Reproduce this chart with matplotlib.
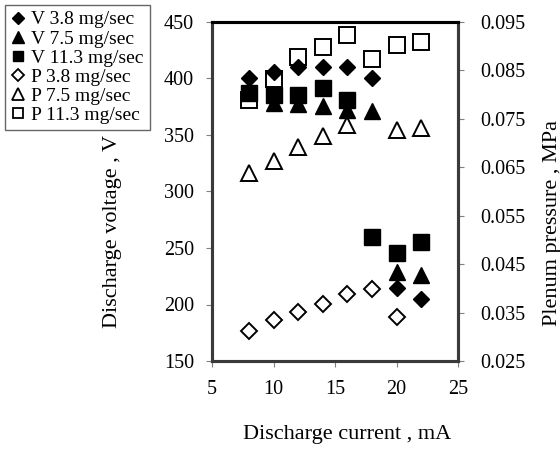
import matplotlib
matplotlib.use("Agg")
import matplotlib.pyplot as plt
from matplotlib.lines import Line2D

plt.rcParams['font.family'] = ['Liberation Serif', 'DejaVu Serif']

# Data
current = [8, 10, 12, 14, 16, 18, 20, 22]
v_38 = [400, 406, 410, 410, 410, 400, 215, 205]
v_75 = [388, 378, 377, 376, 372, 371, 229, 226]
v_113 = [387, 385, 385, 392, 381, 260, 246, 255]

p38_current = [8, 10, 12, 14, 16, 18, 20]
p_38 = [0.0312, 0.0334, 0.0352, 0.0368, 0.0388, 0.0399, 0.0341]
p75_current = [8, 10, 12, 14, 16, 20, 22]
p_75 = [0.0638, 0.0664, 0.0692, 0.0714, 0.0737, 0.0726, 0.0732]
p113_current = [8, 10, 12, 14, 16, 18, 20, 22]
p_113 = [0.0789, 0.0833, 0.0878, 0.0899, 0.0923, 0.0873, 0.0902, 0.0909]

labels = ["V 3.8 mg/sec", "V 7.5 mg/sec", "V 11.3 mg/sec",
          "P 3.8 mg/sec", "P 7.5 mg/sec", "P 11.3 mg/sec"]

W, H = 560, 450
fig = plt.figure(figsize=(W / 100, H / 100), dpi=100)
ax = fig.add_axes([212 / W, 1 - 361 / H, (458 - 212) / W, (361 - 22) / H])
ax2 = ax.twinx()

# Pressure series (open markers) drawn beneath
ax.set_zorder(2)
ax2.set_zorder(1)
ax.patch.set_visible(False)

ax2.plot(p38_current, p_38, linestyle='none', marker='D', markersize=8,
         markerfacecolor='white', markeredgecolor='black', markeredgewidth=1.4)
ax2.plot(p75_current, p_75, linestyle='none', marker='^', markersize=12,
         markerfacecolor='white', markeredgecolor='black', markeredgewidth=1.4)
ax2.plot(p113_current, p_113, linestyle='none', marker='s', markersize=11.5,
         markerfacecolor='white', markeredgecolor='black', markeredgewidth=1.4)

ax.plot(current, v_38, linestyle='none', marker='D', markersize=8.5,
        color='black')
ax.plot(current, v_75, linestyle='none', marker='^', markersize=12,
        color='black')
ax.plot(current, v_113, linestyle='none', marker='s', markersize=11,
        color='black')

ax.set_xlim(5, 25)
ax.set_ylim(150, 450)
ax.set_xticks([5, 10, 15, 20, 25])
ax.set_yticks([150, 200, 250, 300, 350, 400, 450])
ax2.set_ylim(0.025, 0.095)
ax2.set_yticks([0.025, 0.035, 0.045, 0.055, 0.065, 0.075, 0.085, 0.095])
ax2.set_yticklabels(["0.025", "0.035", "0.045", "0.055", "0.065", "0.075",
                     "0.085", "0.095"])

for a in (ax, ax2):
    for side, sp in a.spines.items():
        sp.set_linewidth(2.2)
        sp.set_color('#3a3a3a')
    a.spines['top'].set_color('black')

ax.tick_params(axis='both', direction='out', length=4, width=0.8,
               color='#808080', labelsize=14.5, pad=9)
ax.tick_params(axis='x', pad=10)
ax2.tick_params(axis='y', direction='out', length=4, width=0.8,
                color='#808080', labelsize=14.5, pad=12)

fig.text(347 / W, 1 - 435 / H, "Discharge current , mA", ha='center',
         va='center', fontsize=16)
fig.text(112 / W, 1 - 231 / H, "Discharge voltage , V", ha='center',
         va='center', rotation=90, fontsize=16)
fig.text(552 / W, 1 - 223 / H, "Plenum pressure , MPa", ha='center',
         va='center', rotation=90, fontsize=16)

handles = [
    Line2D([], [], linestyle='none', marker='D', markersize=6, color='black'),
    Line2D([], [], linestyle='none', marker='^', markersize=8, color='black'),
    Line2D([], [], linestyle='none', marker='s', markersize=7, color='black'),
    Line2D([], [], linestyle='none', marker='D', markersize=6,
           markerfacecolor='white', markeredgecolor='black', markeredgewidth=1.3),
    Line2D([], [], linestyle='none', marker='^', markersize=8,
           markerfacecolor='white', markeredgecolor='black', markeredgewidth=1.3),
    Line2D([], [], linestyle='none', marker='s', markersize=7,
           markerfacecolor='white', markeredgecolor='black', markeredgewidth=1.3),
]
leg = fig.legend(handles, labels, loc='upper left',
                 bbox_to_anchor=(5 / W, 1 - 5 / H), frameon=True,
                 fancybox=False, shadow=False, fontsize=14,
                 handlelength=0.7, handletextpad=0.35, labelspacing=0.08,
                 borderpad=0.3, borderaxespad=0)
leg.get_frame().set_edgecolor('#404040')
leg.get_frame().set_linewidth(1.0)
leg.set_zorder(10)

fig.savefig("out.png", dpi=100)
